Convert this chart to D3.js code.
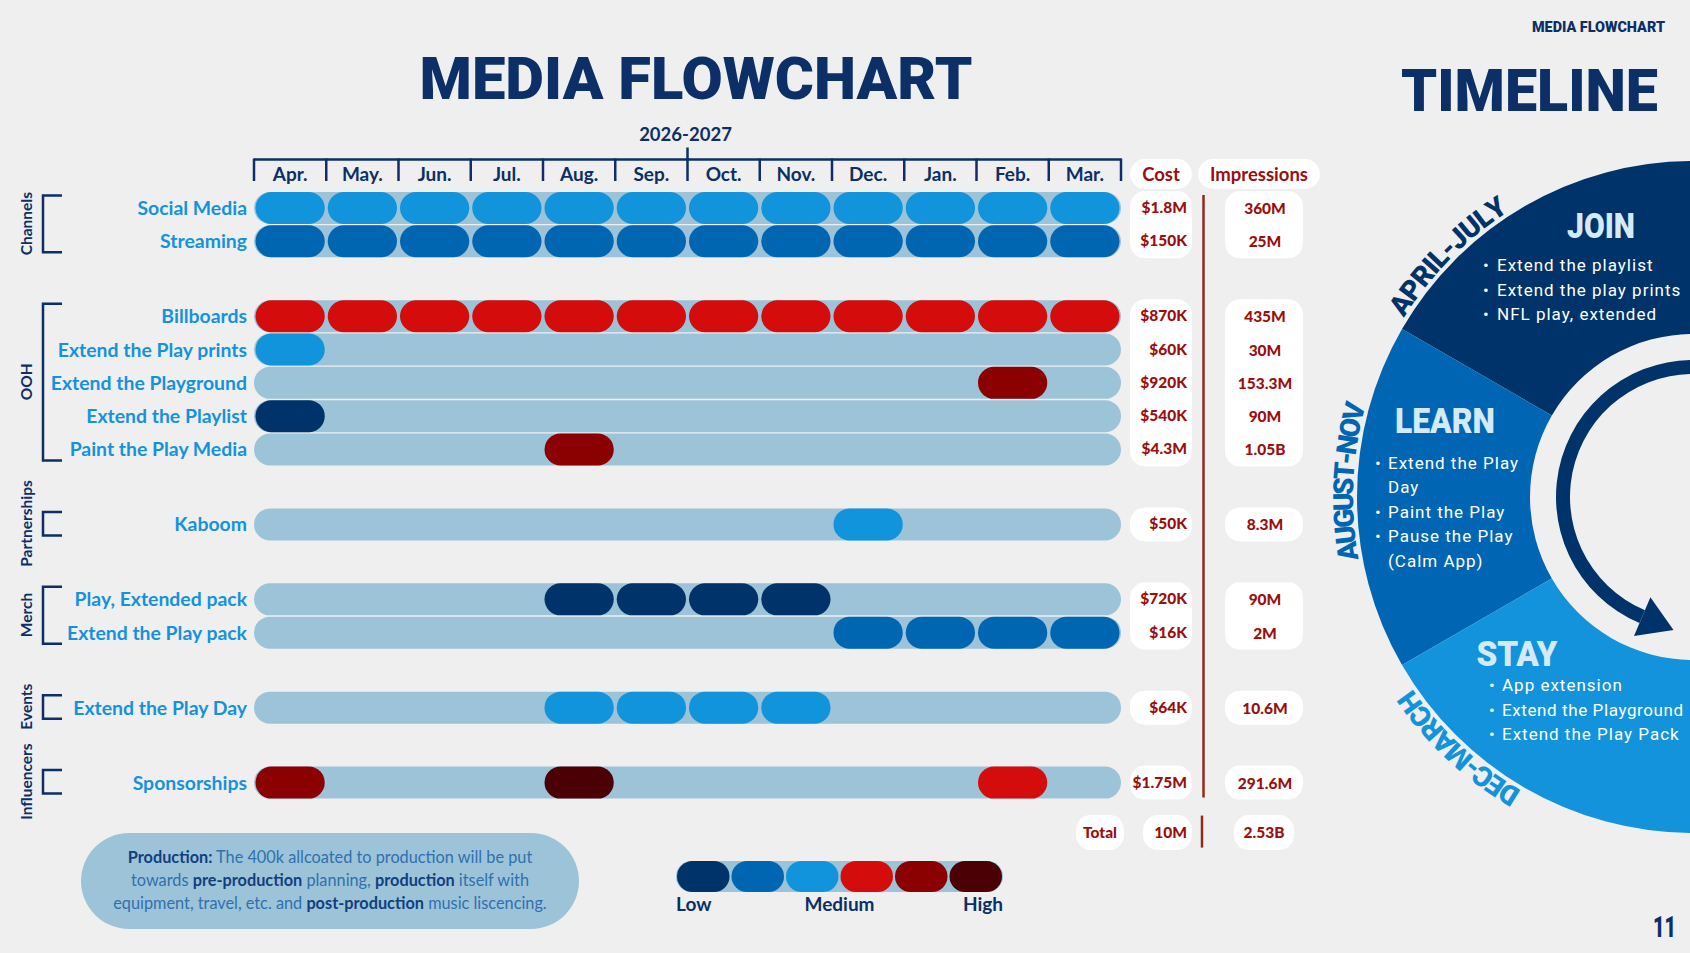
<!DOCTYPE html>
<html>
<head>
<meta charset="utf-8">
<script src="https://cdn.jsdelivr.net/npm/d3@7"></script>
<style>
html, body { margin: 0; padding: 0; background: #efefef; overflow: hidden; }
text { white-space: pre; }
</style>
</head>
<body>
<svg id="svg" width="1690" height="953"></svg>
<script>
// ---- data ----
const months = ["Apr.", "May.", "Jun.", "Jul.", "Aug.", "Sep.", "Oct.", "Nov.", "Dec.", "Jan.", "Feb.", "Mar."];
const groups = ["Channels", "OOH", "Partnerships", "Merch", "Events", "Influencers"];
const channels = [
    "Social Media", "Streaming", "Billboards", "Extend the Play prints", "Extend the Playground",
    "Extend the Playlist", "Paint the Play Media", "Kaboom", "Play, Extended pack",
    "Extend the Play pack", "Extend the Play Day", "Sponsorships"
];
const channelGroup = [0, 0, 1, 1, 1, 1, 1, 2, 3, 3, 4, 5];
const _ = null;
// spend level per month (0 = low ... 5 = high), null = inactive
const levels = [
    [2, 2, 2, 2, 2, 2, 2, 2, 2, 2, 2, 2],
    [1, 1, 1, 1, 1, 1, 1, 1, 1, 1, 1, 1],
    [3, 3, 3, 3, 3, 3, 3, 3, 3, 3, 3, 3],
    [2, _, _, _, _, _, _, _, _, _, _, _],
    [_, _, _, _, _, _, _, _, _, _, 4, _],
    [0, _, _, _, _, _, _, _, _, _, _, _],
    [_, _, _, _, 4, _, _, _, _, _, _, _],
    [_, _, _, _, _, _, _, _, 2, _, _, _],
    [_, _, _, _, 0, 0, 0, 0, _, _, _, _],
    [_, _, _, _, _, _, _, _, 1, 1, 1, 1],
    [_, _, _, _, 2, 2, 2, 2, _, _, _, _],
    [4, _, _, _, 5, _, _, _, _, _, 3, _]
];
const costs = ["$1.8M", "$150K", "$870K", "$60K", "$920K", "$540K", "$4.3M", "$50K", "$720K", "$16K", "$64K", "$1.75M"];
const impressions = ["360M", "25M", "435M", "30M", "153.3M", "90M", "1.05B", "8.3M", "90M", "2M", "10.6M", "291.6M"];
const totalCost = "10M";
const totalImpressions = "2.53B";
const levelColors = ["#003369", "#0066b2", "#1294dc", "#d50c0c", "#8b0000", "#4a0005"];
const legendLabels = ["Low", "Medium", "High"];

const phaseNames = ["JOIN", "LEARN", "STAY"];
const phaseMonths = ["APRIL-JULY", "AUGUST-NOV", "DEC-MARCH"];
const phaseColors = ["#003369", "#0066b3", "#1293dc"];
const phaseItems = [
    [["Extend the playlist"], ["Extend the play prints"], ["NFL play, extended"]],
    [["Extend the Play", "Day"], ["Paint the Play"], ["Pause the Play", "(Calm App)"]],
    [["App extension"], ["Extend the Playground"], ["Extend the Play Pack"]]
];

const noteLines = [
    [["Production:", true], [" The 400k allcoated to production will be put", false]],
    [["towards ", false], ["pre-production", true], [" planning, ", false], ["production", true], [" itself with", false]],
    [["equipment, travel, etc. and ", false], ["post-production", true], [" music liscencing.", false]]
];

// ---- drawing ----
const W = 1690, H = 953;
const navy = "#0b2f66";
const trackColor = "#9dc3d9";
const red = "#9a0e0e";
const heavy = "Roboto, 'DejaVu Sans', sans-serif";
const body = "Lato, 'Open Sans', sans-serif";
const deg = Math.PI / 180;

const svg = d3.select("#svg");
svg.append("rect").attr("width", W).attr("height", H).attr("fill", "#efefef");

// titles
function heavyText(str, x0, y0, size, len, anchor) {
    return svg.append("text")
        .attr("x", x0).attr("y", y0)
        .attr("text-anchor", anchor || "start")
        .attr("font-family", heavy).attr("font-weight", 900).attr("font-size", size)
        .attr("textLength", len).attr("lengthAdjust", "spacingAndGlyphs")
        .attr("fill", navy)
        .text(str);
}
heavyText("MEDIA FLOWCHART", 696, 99, 60, 553, "middle");
heavyText("MEDIA FLOWCHART", 1532, 31.5, 14, 133);
heavyText("TIMELINE", 1401, 110.5, 59, 257);
heavyText("11", 1653, 937, 29, 23);

// scales
const x = d3.scaleBand().domain(months).range([254, 1121]);
const slot = i => i + channelGroup[i] * 1.251;
const y = d3.scaleLinear().domain([0, 1]).range([208, 241.3]);
const rowH = 32;
const inset = 1.5;

// month header
const head = svg.append("g").attr("stroke", navy).attr("stroke-width", 2.5);
head.append("line")
    .attr("x1", x.range()[0]).attr("x2", x.range()[1])
    .attr("y1", 159.5).attr("y2", 159.5);
head.selectAll("line.tick")
    .data([...months.map(m => x(m)), x.range()[1]])
    .join("line")
    .attr("class", "tick")
    .attr("x1", d => d).attr("x2", d => d)
    .attr("y1", 158.5).attr("y2", 181);
head.append("line")
    .attr("x1", x("Oct.")).attr("x2", x("Oct."))
    .attr("y1", 147.5).attr("y2", 160);

svg.append("text")
    .attr("x", x("Oct.") - 2).attr("y", 141)
    .attr("text-anchor", "middle")
    .attr("font-family", body).attr("font-weight", 700).attr("font-size", 18.5)
    .attr("fill", navy)
    .text("2026-2027");

svg.append("g")
    .selectAll("text")
    .data(months)
    .join("text")
    .attr("x", d => x(d) + x.bandwidth() / 2)
    .attr("y", 181)
    .attr("text-anchor", "middle")
    .attr("font-family", body).attr("font-weight", 700).attr("font-size", 19)
    .attr("fill", navy)
    .text(d => d);

// rows
const rows = svg.append("g")
    .selectAll("g")
    .data(channels.map((name, i) => ({name, i, cy: y(slot(i))})))
    .join("g")
    .attr("transform", d => `translate(0, ${d.cy})`);

rows.append("rect")
    .attr("x", x.range()[0])
    .attr("y", -rowH / 2)
    .attr("width", x.range()[1] - x.range()[0])
    .attr("height", rowH)
    .attr("rx", rowH / 2)
    .attr("fill", trackColor);

rows.append("g")
    .selectAll("rect")
    .data(d => levels[d.i].map((lv, m) => ({lv, m})).filter(c => c.lv !== null))
    .join("rect")
    .attr("x", c => x(months[c.m]) + inset)
    .attr("y", -rowH / 2)
    .attr("width", x.bandwidth() - inset * 2)
    .attr("height", rowH)
    .attr("rx", rowH / 2)
    .attr("fill", c => levelColors[c.lv]);

rows.append("text")
    .attr("x", 247)
    .attr("y", 7)
    .attr("text-anchor", "end")
    .attr("font-family", body).attr("font-weight", 700).attr("font-size", 19.4)
    .attr("fill", "#1592dc")
    .text(d => d.name);

// group brackets + side labels, and value boxes
const groupSpans = groups.map((name, g) => {
    const idx = channelGroup.map((v, i) => v === g ? i : -1).filter(i => i >= 0);
    return {name, top: y(slot(idx[0])), bottom: y(slot(idx[idx.length - 1])), idx};
});

const brackets = svg.append("g")
    .selectAll("g")
    .data(groupSpans)
    .join("g");

brackets.append("path")
    .attr("d", d => `M62,${d.top - 12.5}H43V${d.bottom + 11}H62`)
    .attr("fill", "none")
    .attr("stroke", navy)
    .attr("stroke-width", 2.5);

brackets.append("text")
    .attr("transform", d => `translate(32, ${(d.top + d.bottom) / 2 - 1}) rotate(-90)`)
    .attr("text-anchor", "middle")
    .attr("font-family", body).attr("font-weight", 700).attr("font-size", 15.5)
    .attr("fill", navy)
    .text(d => d.name);

const boxes = svg.append("g")
    .selectAll("g")
    .data(groupSpans)
    .join("g");

boxes.append("rect")
    .attr("x", 1130).attr("width", 62)
    .attr("y", d => d.top - 17)
    .attr("height", d => d.bottom - d.top + 34)
    .attr("rx", 15)
    .attr("fill", "#ffffff");

boxes.append("rect")
    .attr("x", 1225).attr("width", 78)
    .attr("y", d => d.top - 17)
    .attr("height", d => d.bottom - d.top + 34)
    .attr("rx", 15)
    .attr("fill", "#ffffff");

const values = svg.append("g")
    .attr("font-family", body).attr("font-weight", 900).attr("font-size", 15.5)
    .attr("fill", red);

values.selectAll("text.cost")
    .data(costs)
    .join("text")
    .attr("class", "cost")
    .attr("x", 1187)
    .attr("y", (d, i) => y(slot(i)) + 5)
    .attr("text-anchor", "end")
    .text(d => d);

values.selectAll("text.imp")
    .data(impressions)
    .join("text")
    .attr("class", "imp")
    .attr("x", 1265)
    .attr("y", (d, i) => y(slot(i)) + 6)
    .attr("text-anchor", "middle")
    .text(d => d);

// column headers
const headers = [
    {label: "Cost", x0: 1130, w: 62},
    {label: "Impressions", x0: 1198, w: 122}
];
const hdr = svg.append("g").selectAll("g").data(headers).join("g");
hdr.append("rect")
    .attr("x", d => d.x0).attr("width", d => d.w)
    .attr("y", 159).attr("height", 30)
    .attr("rx", 15)
    .attr("fill", "#ffffff");
hdr.append("text")
    .attr("x", d => d.x0 + d.w / 2)
    .attr("y", 180.5)
    .attr("text-anchor", "middle")
    .attr("font-family", body).attr("font-weight", 700).attr("font-size", 18.5)
    .attr("fill", red)
    .text(d => d.label);

// divider line and total row
const lastY = y(slot(channels.length - 1));
const totalY = lastY + 50;
svg.append("line")
    .attr("x1", 1203.5).attr("x2", 1203.5)
    .attr("y1", 195).attr("y2", lastY + 15)
    .attr("stroke", "#8e2b1c").attr("stroke-width", 2.5);
svg.append("line")
    .attr("x1", 1202).attr("x2", 1202)
    .attr("y1", totalY - 17).attr("y2", totalY + 15)
    .attr("stroke", "#8e2b1c").attr("stroke-width", 2.5);

const totals = [
    {label: "Total", x0: 1076, w: 48, anchor: "middle"},
    {label: totalCost, x0: 1143, w: 49, anchor: "end"},
    {label: totalImpressions, x0: 1234, w: 60, anchor: "middle"}
];
const tot = svg.append("g").selectAll("g").data(totals).join("g");
tot.append("rect")
    .attr("x", d => d.x0).attr("width", d => d.w)
    .attr("y", totalY - 17.5).attr("height", 35)
    .attr("rx", 15)
    .attr("fill", "#ffffff");
tot.append("text")
    .attr("x", d => d.anchor === "end" ? d.x0 + d.w - 5 : d.x0 + d.w / 2)
    .attr("y", totalY + 5)
    .attr("text-anchor", d => d.anchor)
    .attr("font-family", body).attr("font-weight", 900).attr("font-size", 15.5)
    .attr("fill", red)
    .text(d => d.label);

// legend
const lx = d3.scaleBand().domain(d3.range(levelColors.length)).range([676, 1003]);
const legend = svg.append("g").attr("transform", "translate(0, 876.5)");
legend.append("rect")
    .attr("x", lx.range()[0]).attr("width", lx.range()[1] - lx.range()[0])
    .attr("y", -15.5).attr("height", 31)
    .attr("rx", 15.5)
    .attr("fill", trackColor);
legend.selectAll("rect.sw")
    .data(levelColors)
    .join("rect")
    .attr("class", "sw")
    .attr("x", (d, i) => lx(i) + 1)
    .attr("width", lx.bandwidth() - 2)
    .attr("y", -15.5).attr("height", 31)
    .attr("rx", 15.5)
    .attr("fill", d => d);
legend.selectAll("text")
    .data(legendLabels)
    .join("text")
    .attr("x", (d, i) => [lx(0), lx(3), lx(5) + lx.bandwidth()][i])
    .attr("y", 34)
    .attr("text-anchor", (d, i) => ["start", "middle", "end"][i])
    .attr("font-family", body).attr("font-weight", 700).attr("font-size", 19)
    .attr("fill", navy)
    .text(d => d);

// production note
svg.append("rect")
    .attr("x", 81).attr("y", 833)
    .attr("width", 498).attr("height", 96)
    .attr("rx", 48)
    .attr("fill", trackColor);
svg.append("g")
    .selectAll("text")
    .data(noteLines)
    .join("text")
    .attr("x", 330)
    .attr("y", (d, i) => 862.5 + i * 23)
    .attr("text-anchor", "middle")
    .attr("font-family", body).attr("font-size", 16.3)
    .selectAll("tspan")
    .data(d => d)
    .join("tspan")
    .attr("font-weight", d => d[1] ? 700 : 400)
    .attr("fill", d => d[1] ? "#103f7e" : "#2f70b0")
    .text(d => d[0]);

// ---- timeline ring ----
const cx = 1693, cy = 497, R = 336, r0 = 163;
const ring = svg.append("g").attr("transform", `translate(${cx}, ${cy})`);
const arc = d3.arc().innerRadius(r0).outerRadius(R);
ring.selectAll("path.seg")
    .data(phaseNames)
    .join("path")
    .attr("class", "seg")
    .attr("d", (d, i) => arc({
        startAngle: (i === 2 ? -240 : -60 * (i + 1)) * deg,
        endAngle: (i === 0 ? 60 : -60 * i) * deg
    }))
    .attr("fill", (d, i) => phaseColors[i]);

// arrow inside the ring
const pos = (r, a) => [r * Math.sin(a * deg), -r * Math.cos(a * deg)];
const arrowEnd = -157;
ring.append("path")
    .attr("d", d3.arc().innerRadius(123).outerRadius(137)({startAngle: arrowEnd * deg, endAngle: 10 * deg}))
    .attr("fill", "#003369");
const base = pos(130, arrowEnd);
const dir = [-Math.cos(arrowEnd * deg), -Math.sin(arrowEnd * deg)];
const tip = [base[0] + 34 * dir[0], base[1] + 34 * dir[1]];
ring.append("path")
    .attr("d", "M" + [pos(109, arrowEnd), pos(151, arrowEnd), tip].map(p => p.join(",")).join("L") + "Z")
    .attr("fill", "#003369");

// curved month ranges, one glyph at a time along the outer edge
const rl = 340;
const rangeAngles = [-45.5, -87.4, -137];
const rangeLengths = [151, 156, 151];
const ringFont = 28;
const measure = svg.append("text")
    .attr("font-family", heavy).attr("font-weight", 900).attr("font-size", ringFont)
    .attr("opacity", 0);
phaseMonths.forEach((label, p) => {
    const chars = label.split("");
    const widths = chars.map(c => { measure.text(c); return measure.node().getComputedTextLength(); });
    const natural = d3.sum(widths);
    const extra = (rangeLengths[p] - natural) / (chars.length - 1);
    let run = 0;
    const placed = chars.map((c, k) => {
        const mid = run + widths[k] / 2;
        run += widths[k] + extra;
        return {c, mid};
    });
    const total = run - extra;
    ring.append("g")
        .selectAll("text")
        .data(placed)
        .join("text")
        .attr("transform", d => {
            const a = rangeAngles[p] + ((d.mid - total / 2) / rl) / deg;
            const pt = pos(rl, a);
            return `translate(${pt[0]}, ${pt[1]}) rotate(${a})`;
        })
        .attr("text-anchor", "middle")
        .attr("font-family", heavy).attr("font-weight", 900).attr("font-size", ringFont)
        .attr("fill", phaseColors[p])
        .text(d => d.c);
});
measure.remove();

// phase titles and bullets
const phaseLayout = [
    {tx: 1601, ty: 237.5, tw: 68, bx: 1483, x0: 1497, y0: 271},
    {tx: 1445, ty: 433, tw: 100, bx: 1375, x0: 1388, y0: 468.5},
    {tx: 1517, ty: 666, tw: 81, bx: 1489, x0: 1502, y0: 691}
];
const lineStep = 24.6;

phaseNames.forEach((name, p) => {
    const L = phaseLayout[p];
    svg.append("text")
        .attr("x", L.tx).attr("y", L.ty)
        .attr("text-anchor", "middle")
        .attr("font-family", heavy).attr("font-weight", 900).attr("font-size", 35)
        .attr("textLength", L.tw).attr("lengthAdjust", "spacingAndGlyphs")
        .attr("fill", "#d5eaf8")
        .text(name);

    const lines = [];
    phaseItems[p].forEach(item => item.forEach((t, k) => lines.push({t, bullet: k === 0})));

    const g = svg.append("g")
        .attr("font-family", "Roboto, 'DejaVu Sans', sans-serif")
        .attr("font-size", 17)
        .attr("letter-spacing", 1)
        .attr("fill", "#ffffff");
    g.selectAll("text.line")
        .data(lines)
        .join("text")
        .attr("class", "line")
        .attr("x", L.x0)
        .attr("y", (d, i) => L.y0 + i * lineStep)
        .text(d => d.t)
        .each(function () {
            // keep the longest line inside the slide edge
            const room = W - 3 - L.x0;
            if (this.getComputedTextLength() > room) {
                d3.select(this).attr("letter-spacing", 0.6);
                if (this.getComputedTextLength() > room) {
                    d3.select(this).attr("textLength", room).attr("lengthAdjust", "spacingAndGlyphs");
                }
            }
        });
    g.selectAll("text.dot")
        .data(lines.map((d, i) => ({...d, i})).filter(d => d.bullet))
        .join("text")
        .attr("class", "dot")
        .attr("x", L.bx)
        .attr("y", d => L.y0 + d.i * lineStep)
        .text("\u2022");
});
</script>
</body>
</html>
